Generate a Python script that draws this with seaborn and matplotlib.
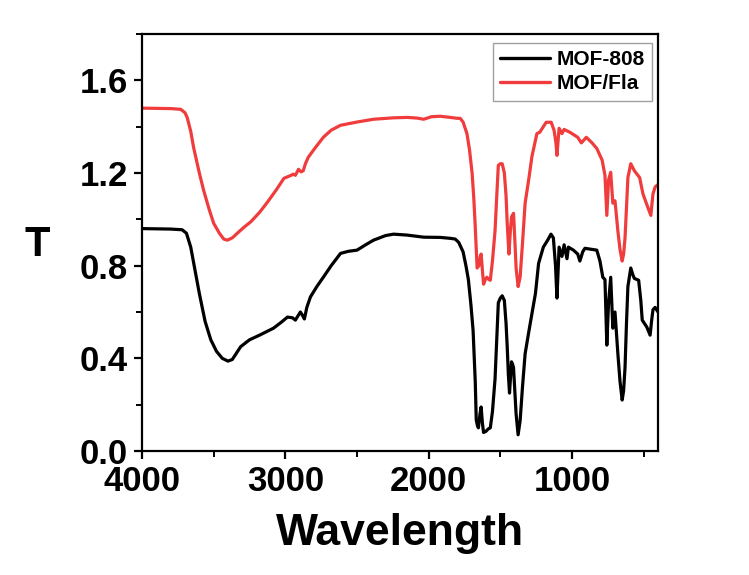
import matplotlib
matplotlib.use("Agg")
import matplotlib.pyplot as plt
import seaborn as sns
import pandas as pd
from matplotlib.ticker import MultipleLocator

# ---- data ----
mof808_x = [4000, 3800, 3720, 3690, 3660, 3630, 3600, 3560, 3520, 3480, 3440, 3400, 3370,
            3312, 3250, 3180, 3083, 3030, 2985, 2950, 2930, 2910, 2895, 2880, 2867, 2850,
            2825, 2780, 2735, 2680, 2615, 2560, 2500, 2440, 2385, 2300, 2245, 2150, 2035,
            1920, 1850, 1815, 1790, 1760, 1740, 1723, 1705, 1690, 1675, 1668, 1660, 1653,
            1642, 1634, 1625, 1617, 1600, 1585, 1570, 1555, 1537, 1525, 1514, 1500, 1487,
            1472, 1460, 1452, 1444, 1436, 1428, 1422, 1415, 1408, 1398, 1390, 1376, 1362,
            1345, 1327, 1300, 1280, 1255, 1233, 1200, 1170, 1147, 1130, 1115, 1105, 1097,
            1090, 1070, 1055, 1035, 1025, 990, 960, 945, 925, 910, 860, 827, 805, 785, 770,
            757, 745, 730, 715, 700, 680, 665, 650, 640, 630, 620, 610, 590, 575, 565, 535,
            520, 510, 478, 455, 445, 435, 420, 400]
mof808_t = [0.960, 0.958, 0.955, 0.940, 0.880, 0.780, 0.680, 0.560, 0.480, 0.430, 0.400, 0.388, 0.395,
            0.450, 0.480, 0.500, 0.530, 0.555, 0.578, 0.575, 0.565, 0.585, 0.600, 0.585, 0.570, 0.620,
            0.665, 0.710, 0.750, 0.800, 0.853, 0.862, 0.867, 0.890, 0.910, 0.930, 0.936, 0.932, 0.923,
            0.922, 0.918, 0.915, 0.900, 0.860, 0.800, 0.740, 0.630, 0.520, 0.300, 0.134, 0.110, 0.100,
            0.160, 0.190, 0.120, 0.080, 0.085, 0.095, 0.100, 0.170, 0.310, 0.480, 0.640, 0.660, 0.670,
            0.650, 0.550, 0.450, 0.330, 0.250, 0.330, 0.385, 0.375, 0.360, 0.250, 0.160, 0.070, 0.130,
            0.280, 0.420, 0.520, 0.590, 0.680, 0.810, 0.880, 0.910, 0.936, 0.920, 0.800, 0.660, 0.780,
            0.880, 0.840, 0.890, 0.830, 0.880, 0.867, 0.850, 0.820, 0.860, 0.875, 0.870, 0.867, 0.820, 0.750, 0.740,
            0.457, 0.640, 0.750, 0.530, 0.600, 0.420, 0.300, 0.220, 0.260, 0.360, 0.550, 0.710, 0.790, 0.760, 0.745, 0.737,
            0.650, 0.565, 0.535, 0.500, 0.560, 0.610, 0.620, 0.600]

moffla_x = [4000, 3800, 3730, 3700, 3685, 3660, 3640, 3600, 3570, 3530, 3500, 3460, 3430,
            3405, 3370, 3335, 3290, 3240, 3180, 3125, 3060, 3010, 2960, 2945, 2930, 2908,
            2890, 2875, 2860, 2840, 2790, 2735, 2680, 2615, 2500, 2385, 2250, 2150, 2080,
            2035, 1980, 1920, 1850, 1800, 1780, 1760, 1733, 1715, 1697, 1685, 1676, 1662,
            1650, 1640, 1634, 1625, 1617, 1605, 1594, 1580, 1570, 1555, 1537, 1525, 1514,
            1500, 1487, 1472, 1460, 1452, 1440, 1430, 1422, 1408, 1398, 1390, 1376, 1362,
            1345, 1327, 1300, 1280, 1245, 1225, 1200, 1180, 1145, 1125, 1112, 1105, 1097,
            1090, 1070, 1055, 1015, 960, 935, 900, 860, 827, 790, 770, 757, 745, 730, 715,
            700, 680, 665, 650, 640, 630, 620, 610, 590, 565, 528, 505, 470, 450, 435, 420, 400]
moffla_t = [1.480, 1.478, 1.475, 1.460, 1.440, 1.380, 1.310, 1.200, 1.125, 1.040, 0.983, 0.940, 0.915,
            0.910, 0.920, 0.940, 0.965, 0.990, 1.030, 1.074, 1.130, 1.177, 1.190, 1.195, 1.190, 1.216,
            1.205, 1.210, 1.240, 1.268, 1.310, 1.354, 1.385, 1.406, 1.420, 1.432, 1.438, 1.440, 1.437,
            1.432, 1.443, 1.445, 1.440, 1.436, 1.436, 1.420, 1.370, 1.300, 1.200, 1.090, 0.980, 0.790,
            0.800, 0.840, 0.850, 0.780, 0.720, 0.740, 0.750, 0.740, 0.737, 0.820, 0.950, 1.100, 1.233,
            1.240, 1.240, 1.200, 1.100, 0.983, 0.850, 0.950, 1.010, 1.026, 0.900, 0.790, 0.710, 0.750,
            0.900, 1.070, 1.180, 1.270, 1.370, 1.376, 1.400, 1.419, 1.419, 1.384, 1.330, 1.276, 1.340,
            1.393, 1.370, 1.388, 1.376, 1.354, 1.330, 1.354, 1.330, 1.306, 1.256, 1.190, 1.017, 1.170, 1.203, 1.070,
            1.080, 0.950, 0.870, 0.820, 0.850, 0.920, 1.050, 1.180, 1.240, 1.210, 1.180, 1.110, 1.050, 1.017, 1.110, 1.140, 1.150]

series_names = ["MOF-808", "MOF/Fla"]
series_colors = ["#000000", "#F03C3C"]
x_ticks = [4000, 3000, 2000, 1000]
y_ticks = [0.0, 0.4, 0.8, 1.2, 1.6]

df = pd.concat([
    pd.DataFrame({"Wavelength": mof808_x, "T": mof808_t, "Sample": series_names[0]}),
    pd.DataFrame({"Wavelength": moffla_x, "T": moffla_t, "Sample": series_names[1]}),
])

sns.set_theme(style="ticks")
plt.rcParams["font.family"] = ["Liberation Sans", "DejaVu Sans"]
plt.rcParams["font.weight"] = "bold"
plt.rcParams["axes.labelweight"] = "bold"
plt.rcParams["text.color"] = "black"
plt.rcParams["axes.labelcolor"] = "black"
plt.rcParams["xtick.color"] = "black"
plt.rcParams["ytick.color"] = "black"
plt.rcParams["axes.edgecolor"] = "black"

fig = plt.figure(figsize=(7.49, 5.75), dpi=100)
ax = fig.add_axes([142/749, 1 - 451/575, (658 - 142)/749, (451 - 34)/575])

sns.lineplot(data=df, x="Wavelength", y="T", hue="Sample", hue_order=series_names,
             palette=series_colors, estimator=None, sort=False, linewidth=2.3, ax=ax)

ax.set_xlim(4000, 400)
ax.set_ylim(0, 1.8)
ax.set_xticks(x_ticks)
ax.set_xticklabels([str(v) for v in x_ticks])
ax.set_yticks(y_ticks)
ax.set_yticklabels([f"{v:.1f}" for v in y_ticks])
ax.xaxis.set_minor_locator(MultipleLocator(500))
ax.yaxis.set_minor_locator(MultipleLocator(0.2))

for s in ax.spines.values():
    s.set_linewidth(1.6)
    s.set_color("black")
    s.set_visible(True)

ax.tick_params(axis="both", which="major", direction="out", length=6, width=1.6,
               labelsize=25, pad=4, colors="black", labelcolor="black")
ax.tick_params(axis="both", which="minor", direction="out", length=4, width=1.4, colors="black")
for lab in ax.get_xticklabels() + ax.get_yticklabels():
    lab.set_fontweight("bold")
    lab.set_color("black")

ax.set_xlabel("Wavelength", fontsize=32, fontweight="bold", labelpad=11, color="black")
ax.set_ylabel("T", fontsize=30, fontweight="bold", rotation=0, va="center", ha="center", color="black")
ax.yaxis.set_label_coords((37 - 142)/516, (451 - 245)/417)

leg = ax.legend(loc="upper right", bbox_to_anchor=((652 - 142)/516, (451 - 43)/417),
                borderaxespad=0, frameon=True, fancybox=False,
                handlelength=2.4, handletextpad=0.3, labelspacing=0.25, borderpad=0.35,
                prop={"weight": "bold", "size": 15})
leg.get_frame().set_edgecolor("#888888")
leg.get_frame().set_linewidth(1.0)
for t in leg.get_texts():
    t.set_color("black")
for line in leg.get_lines():
    line.set_linewidth(2.4)

fig.savefig("out.png", dpi=100, facecolor="white")
